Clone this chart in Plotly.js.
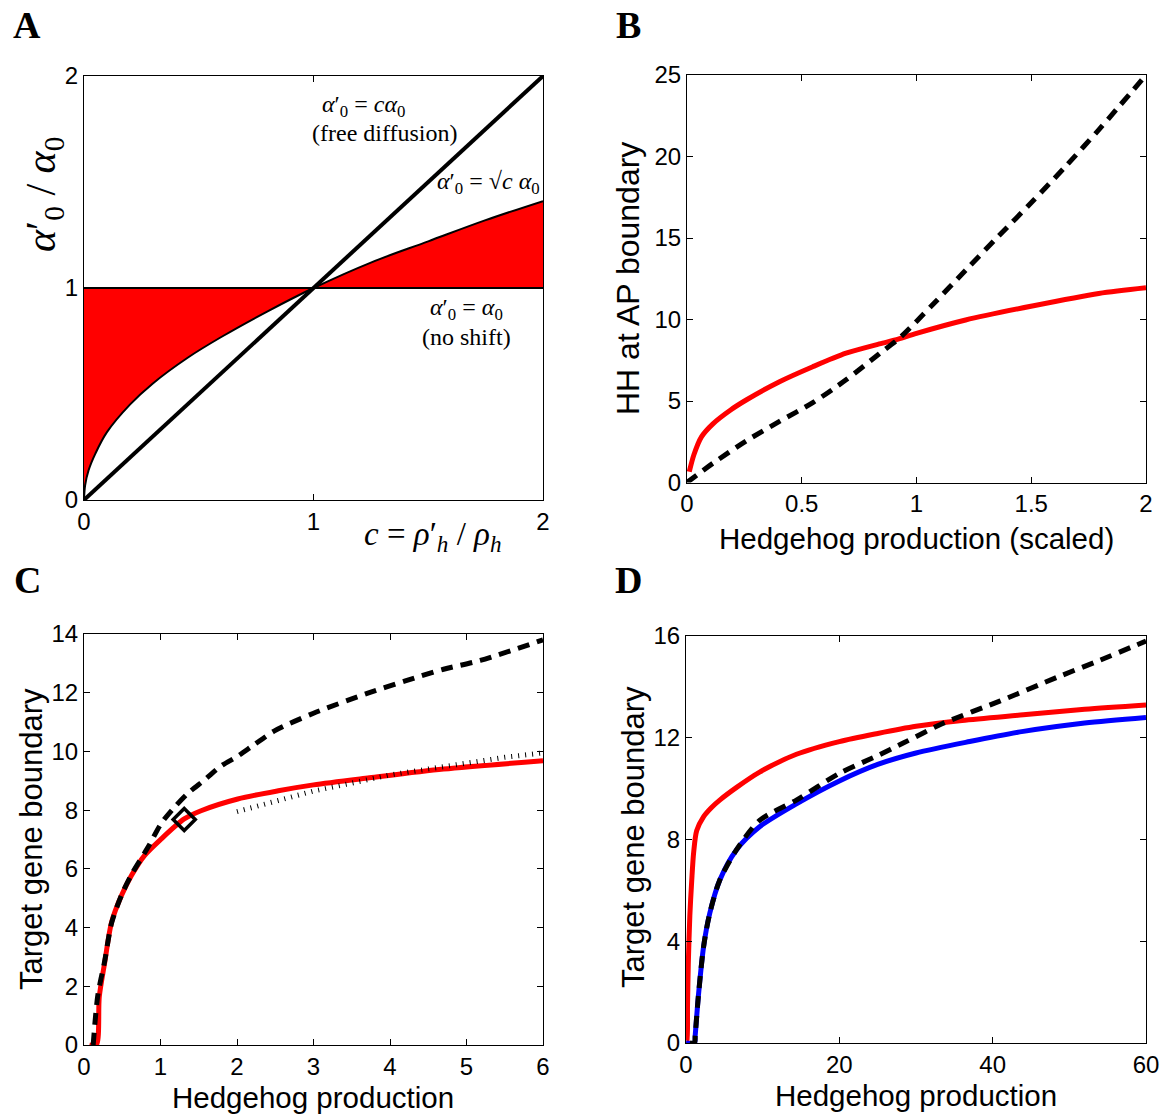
<!DOCTYPE html>
<html>
<head>
<meta charset="utf-8">
<script src="https://cdn.plot.ly/plotly-3.0.1.min.js"></script>
<style>
  html, body { margin: 0; padding: 0; background: #fff; }
  #chart { width: 1173px; height: 1120px; }
</style>
</head>
<body>
<div id="chart"></div>
<script>
// ---------- Panel A data ----------
const A_c          = [0, 0.005, 0.02, 0.05, 0.1, 0.2, 0.3, 0.45, 0.6, 0.8, 1.0, 1.25, 1.5, 1.75, 2.0];
const A_sqrtShift  = [0, 0.07, 0.14, 0.22, 0.32, 0.45, 0.55, 0.67, 0.77, 0.89, 1.0, 1.12, 1.22, 1.32, 1.41];
const A_lineX      = [0, 2];
const A_noShift    = [1, 1];
const A_freeDiff   = [0, 2];

// ---------- Panel B data ----------
const B_redX  = [0.01, 0.03, 0.063, 0.113, 0.19, 0.258, 0.403, 0.548, 0.693, 0.838, 0.92, 1.0, 1.214, 1.504, 1.794, 2.0];
const B_redY  = [0.66, 1.7, 2.8, 3.6, 4.45, 5.06, 6.18, 7.1, 7.93, 8.5, 8.8, 9.15, 9.97, 10.83, 11.6, 11.95];
const B_dashX = [0, 0.113, 0.258, 0.403, 0.548, 0.693, 0.838, 0.925, 1.07, 1.216, 1.36, 1.506, 1.65, 1.795, 2.0];
const B_dashY = [0, 1.18, 2.55, 3.75, 4.9, 6.3, 7.9, 8.85, 10.9, 13.05, 15.15, 17.25, 19.4, 21.65, 25.0];

// ---------- Panel C data ----------
const C_redX  = [0.07, 0.16, 0.2, 0.27, 0.36, 0.49, 0.62, 0.79, 1.01, 1.31, 1.53, 2.01, 2.54, 3.0, 3.73, 4.7, 6.0];
const C_redY  = [0, 0, 1.65, 2.8, 4.18, 5.09, 5.77, 6.45, 7.02, 7.7, 7.98, 8.38, 8.66, 8.86, 9.1, 9.4, 9.68];
const C_dashX = [0.12, 0.18, 0.27, 0.36, 0.49, 0.62, 0.84, 1.01, 1.19, 1.36, 1.58, 1.79, 2.01, 2.23, 2.49, 3.0, 3.73, 4.2, 4.7, 5.18, 6.0];
const C_dashY = [0, 1.68, 2.85, 4.15, 5.1, 5.8, 6.75, 7.55, 8.12, 8.58, 9.04, 9.5, 9.84, 10.24, 10.7, 11.3, 12.0, 12.4, 12.8, 13.1, 13.8];
const C_dotX  = [2.0, 2.5, 3.0, 3.5, 4.0, 4.5, 5.0, 5.5, 6.0];
const C_dotY  = [7.95, 8.3, 8.65, 8.92, 9.2, 9.4, 9.6, 9.8, 9.95];
const C_markX = [1.31];
const C_markY = [7.68];

// ---------- Panel D data ----------
const D_redX  = [0, 0.1, 0.2, 0.3, 0.5, 0.75, 1.0, 1.4, 2.3, 3.3, 4.4, 6.6, 9.6, 14.4, 20, 25, 30, 36, 44, 52, 60];
const D_redY  = [0, 0, 1.5, 3.1, 5.0, 6.4, 7.5, 8.35, 8.9, 9.25, 9.55, 10.05, 10.65, 11.35, 11.85, 12.17, 12.45, 12.68, 12.9, 13.12, 13.29];
const D_blueX = [0, 1.1, 1.2, 1.6, 2.3, 3.1, 4.4, 6.6, 9.6, 14.4, 20, 25, 30, 37, 44, 52, 60];
const D_blueY = [0, 0, 0.3, 1.8, 3.8, 5.1, 6.4, 7.6, 8.5, 9.4, 10.3, 10.95, 11.4, 11.85, 12.25, 12.58, 12.8];
const D_dashX = [0.5, 1.1, 1.2, 1.6, 2.3, 3.1, 4.4, 6.6, 9.6, 14.4, 20, 25, 28.4, 33.4, 41, 48.6, 54, 60];
const D_dashY = [0, 0, 0.3, 1.8, 3.8, 5.1, 6.4, 7.6, 8.75, 9.55, 10.6, 11.3, 11.8, 12.55, 13.45, 14.4, 15.05, 15.8];

// ---------- tick labels ----------
const A_ticks = [0, 1, 2];
const B_xticks = [0, 0.5, 1, 1.5, 2];
const B_yticks = [0, 5, 10, 15, 20, 25];
const C_xticks = [0, 1, 2, 3, 4, 5, 6];
const C_yticks = [0, 2, 4, 6, 8, 10, 12, 14];
const D_xticks = [0, 20, 40, 60];
const D_yticks = [0, 4, 8, 12, 16];

const W = 1173, H = 1120;
const px = v => v / W;
const py = v => 1 - v / H;

const SANS = 'Liberation Sans, Arial, Helvetica, sans-serif';
const SERIF = 'Liberation Serif, Times New Roman, serif';

function axis(dom, range, ticks, anchor) {
  return {
    domain: dom, range: range, anchor: anchor,
    tickmode: 'array', tickvals: ticks, ticktext: ticks.map(String),
    showline: true, linecolor: 'black', linewidth: 1, mirror: 'ticks',
    ticks: 'inside', ticklen: 6, tickwidth: 1, tickcolor: 'black',
    showgrid: false, zeroline: false, fixedrange: true,
    tickfont: {family: SANS, size: 24, color: 'black'}
  };
}

const RED = '#ff0000', BLUE = '#0000ff';
const SM = 0.8;

const traces = [
  // Panel A
  {x: A_lineX, y: A_noShift, xaxis: 'x', yaxis: 'y', mode: 'lines', line: {color: 'black', width: 2}, hoverinfo: 'skip'},
  {x: A_c, y: A_sqrtShift, xaxis: 'x', yaxis: 'y', mode: 'lines', fill: 'tonexty', fillcolor: RED,
   line: {color: 'black', width: 2, shape: 'spline'}, hoverinfo: 'skip'},
  {x: A_lineX, y: A_noShift, xaxis: 'x', yaxis: 'y', mode: 'lines', line: {color: 'black', width: 2}, hoverinfo: 'skip'},
  {x: A_lineX, y: A_freeDiff, xaxis: 'x', yaxis: 'y', mode: 'lines', line: {color: 'black', width: 4}, hoverinfo: 'skip'},

  // Panel B
  {x: B_redX, y: B_redY, xaxis: 'x2', yaxis: 'y2', mode: 'lines', line: {color: RED, width: 5, shape: 'spline', smoothing: SM}},
  {x: B_dashX, y: B_dashY, xaxis: 'x2', yaxis: 'y2', mode: 'lines', line: {color: 'black', width: 5, dash: '12px,8px', shape: 'spline', smoothing: SM}},

  // Panel C
  {x: C_redX, y: C_redY, xaxis: 'x3', yaxis: 'y3', mode: 'lines', line: {color: RED, width: 5, shape: 'spline', smoothing: SM}},
  {x: C_dashX, y: C_dashY, xaxis: 'x3', yaxis: 'y3', mode: 'lines', line: {color: 'black', width: 5, dash: '12px,8px', shape: 'spline', smoothing: SM}},
  {x: C_dotX, y: C_dotY, xaxis: 'x3', yaxis: 'y3', mode: 'lines', line: {color: 'black', width: 5, dash: '1px,6px'}},
  {x: C_markX, y: C_markY, xaxis: 'x3', yaxis: 'y3', mode: 'markers',
   marker: {symbol: 'diamond-open', size: 17, color: 'black', line: {width: 3.5, color: 'black'}}},

  // Panel D
  {x: D_redX, y: D_redY, xaxis: 'x4', yaxis: 'y4', mode: 'lines', line: {color: RED, width: 5, shape: 'spline', smoothing: SM}},
  {x: D_blueX, y: D_blueY, xaxis: 'x4', yaxis: 'y4', mode: 'lines', line: {color: BLUE, width: 5, shape: 'spline', smoothing: SM}},
  {x: D_dashX, y: D_dashY, xaxis: 'x4', yaxis: 'y4', mode: 'lines', line: {color: 'black', width: 5, dash: '12px,8px', shape: 'spline', smoothing: SM}}
];

function ann(text, x, y, size, family, extra) {
  return Object.assign({text: text, x: px(x), y: py(y), xref: 'paper', yref: 'paper',
    showarrow: false, xanchor: 'center', yanchor: 'middle',
    font: {family: family, size: size, color: 'black'}}, extra || {});
}

const annotations = [
  // panel letters
  ann('<b>A</b>', 27, 25, 38, SERIF),
  ann('<b>B</b>', 628, 25, 38, SERIF),
  ann('<b>C</b>', 27, 580, 38, SERIF),
  ann('<b>D</b>', 628, 580, 38, SERIF),

  // Panel A math labels
  ann('<i>α</i>′<sub>0</sub> = <i>cα</i><sub>0</sub>', 364, 106, 24, SERIF),
  ann('(free diffusion)', 385, 133, 24, SERIF),
  ann('<i>α</i>′<sub>0</sub> = √<i>c</i> <i>α</i><sub>0</sub>', 488, 183, 24, SERIF),
  ann('<i>α</i>′<sub>0</sub> = <i>α</i><sub>0</sub>', 466, 309, 24, SERIF),
  ann('(no shift)', 466, 337, 24, SERIF),
  ann('<i>α</i>′<sub>0</sub> / <i>α</i><sub>0</sub>', 44, 195, 42, SERIF, {textangle: -90}),
  ann('<i>c</i> = <i>ρ</i>′<sub><i>h</i></sub> / <i>ρ</i><sub><i>h</i></sub>', 432, 536, 33, SERIF),

  // axis titles
  ann('HH at AP boundary', 628, 279, 32, SANS, {textangle: -90}),
  ann('Hedgehog production (scaled)', 916, 538, 29.5, SANS),
  ann('Target gene boundary', 31, 839, 31, SANS, {textangle: -90}),
  ann('Hedgehog production', 313, 1097, 29.5, SANS),
  ann('Target gene boundary', 633, 837, 31, SANS, {textangle: -90}),
  ann('Hedgehog production', 916, 1095, 29.5, SANS)
];

const layout = {
  width: W, height: H,
  margin: {l: 0, r: 0, t: 0, b: 0},
  paper_bgcolor: 'white', plot_bgcolor: 'white',
  showlegend: false,
  xaxis:  axis([px(84), px(543)], [0, 2], A_ticks, 'y'),
  yaxis:  axis([1 - 500 / H, 1 - 76 / H], [0, 2], A_ticks, 'x'),
  xaxis2: axis([px(687), px(1146)], [0, 2], B_xticks, 'y2'),
  yaxis2: axis([1 - 482.5 / H, 1 - 75 / H], [0, 25], B_yticks, 'x2'),
  xaxis3: axis([px(84), px(543)], [0, 6], C_xticks, 'y3'),
  yaxis3: axis([1 - 1045 / H, 1 - 634 / H], [0, 14], C_yticks, 'x3'),
  xaxis4: axis([px(686), px(1146)], [0, 60], D_xticks, 'y4'),
  yaxis4: axis([1 - 1043 / H, 1 - 636 / H], [0, 16], D_yticks, 'x4'),
  annotations: annotations
};

Plotly.newPlot('chart', traces, layout, {staticPlot: true, displayModeBar: false});
</script>
</body>
</html>
